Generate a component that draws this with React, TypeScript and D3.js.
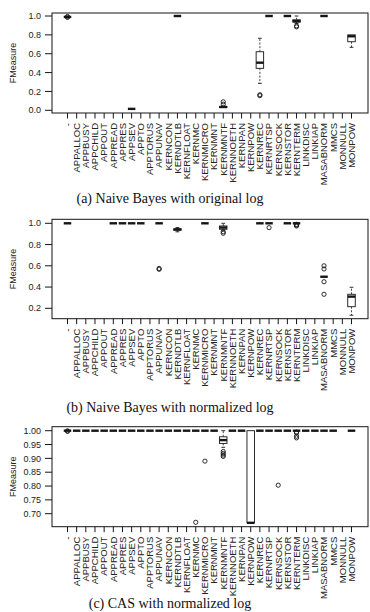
import React from 'react';
import * as d3 from 'd3';

// fault categories along the x axis
const categories = [
  '-', 'APPALLOC', 'APPBUSY', 'APPCHILD', 'APPOUT', 'APPREAD', 'APPRES', 'APPSEV',
  'APPTO', 'APPTORUS', 'APPUNAV', 'KERNCON', 'KERNDTLB', 'KERNFLOAT', 'KERNMC',
  'KERNMICRO', 'KERNMNT', 'KERNMNTF', 'KERNNOETH', 'KERNPAN', 'KERNPOW', 'KERNREC',
  'KERNRTSP', 'KERNSOCK', 'KERNSTOR', 'KERNTERM', 'LINKDISC', 'LINKIAP', 'MASABNORM',
  'MMCS', 'MONNULL', 'MONPOW',
];

// [category, lower whisker, q1, median, q3, upper whisker]
type Stat = [string, number, number, number, number, number];
type Outlier = [string, number];

const nbOriginalStats: Stat[] = [
  ['-', 0.99, 0.99, 0.99, 0.99, 0.99],
  ['APPSEV', 0.015, 0.015, 0.015, 0.015, 0.015],
  ['KERNDTLB', 1, 1, 1, 1, 1],
  ['KERNMNTF', 0.03, 0.03, 0.035, 0.04, 0.045],
  ['KERNREC', 0.286, 0.445, 0.505, 0.621, 0.764],
  ['KERNRTSP', 1, 1, 1, 1, 1],
  ['KERNSTOR', 1, 1, 1, 1, 1],
  ['KERNTERM', 0.92, 0.935, 0.945, 0.96, 1],
  ['MASABNORM', 1, 1, 1, 1, 1],
  ['MONPOW', 0.668, 0.727, 0.785, 0.8, 0.8],
];
const nbOriginalOutliers: Outlier[] = [
  ['-', 0.985], ['-', 0.995],
  ['KERNMNTF', 0.065], ['KERNMNTF', 0.09],
  ['KERNREC', 0.155], ['KERNREC', 0.165],
  ['KERNTERM', 0.885], ['KERNTERM', 0.895],
];

const nbNormalizedStats: Stat[] = [
  ['-', 1, 1, 1, 1, 1],
  ['APPREAD', 1, 1, 1, 1, 1],
  ['APPRES', 1, 1, 1, 1, 1],
  ['APPSEV', 1, 1, 1, 1, 1],
  ['APPTO', 1, 1, 1, 1, 1],
  ['APPUNAV', 1, 1, 1, 1, 1],
  ['KERNDTLB', 0.92, 0.935, 0.942, 0.948, 0.96],
  ['KERNMICRO', 1, 1, 1, 1, 1],
  ['KERNMNTF', 0.935, 0.944, 0.96, 0.975, 1],
  ['KERNREC', 1, 1, 1, 1, 1],
  ['KERNRTSP', 1, 1, 1, 1, 1],
  ['KERNSTOR', 1, 1, 1, 1, 1],
  ['KERNTERM', 1, 1, 1, 1, 1],
  ['MASABNORM', 0.497, 0.497, 0.497, 0.497, 0.497],
  ['MONPOW', 0.135, 0.215, 0.31, 0.332, 0.398],
];
const nbNormalizedOutliers: Outlier[] = [
  ['APPUNAV', 0.567], ['APPUNAV', 0.575],
  ['KERNMNTF', 0.92], ['KERNMNTF', 0.906],
  ['KERNRTSP', 0.959],
  ['KERNTERM', 0.99], ['KERNTERM', 0.982], ['KERNTERM', 0.975],
  ['MASABNORM', 0.6], ['MASABNORM', 0.57], ['MASABNORM', 0.45], ['MASABNORM', 0.332],
];

const casNormalizedStats: Stat[] = [
  ['-', 1, 1, 1, 1, 1],
  ['APPALLOC', 1, 1, 1, 1, 1],
  ['APPBUSY', 1, 1, 1, 1, 1],
  ['APPCHILD', 1, 1, 1, 1, 1],
  ['APPOUT', 1, 1, 1, 1, 1],
  ['APPREAD', 1, 1, 1, 1, 1],
  ['APPRES', 1, 1, 1, 1, 1],
  ['APPSEV', 1, 1, 1, 1, 1],
  ['APPTO', 1, 1, 1, 1, 1],
  ['APPTORUS', 1, 1, 1, 1, 1],
  ['APPUNAV', 1, 1, 1, 1, 1],
  ['KERNCON', 1, 1, 1, 1, 1],
  ['KERNDTLB', 1, 1, 1, 1, 1],
  ['KERNFLOAT', 1, 1, 1, 1, 1],
  ['KERNMC', 1, 1, 1, 1, 1],
  ['KERNMICRO', 1, 1, 1, 1, 1],
  ['KERNMNT', 1, 1, 1, 1, 1],
  ['KERNMNTF', 0.94, 0.954, 0.966, 0.978, 1],
  ['KERNNOETH', 1, 1, 1, 1, 1],
  ['KERNPAN', 1, 1, 1, 1, 1],
  ['KERNPOW', 0.667, 0.667, 0.667, 1, 1],
  ['KERNREC', 1, 1, 1, 1, 1],
  ['KERNRTSP', 1, 1, 1, 1, 1],
  ['KERNSOCK', 1, 1, 1, 1, 1],
  ['KERNSTOR', 1, 1, 1, 1, 1],
  ['KERNTERM', 1, 1, 1, 1, 1],
  ['LINKDISC', 1, 1, 1, 1, 1],
  ['LINKIAP', 1, 1, 1, 1, 1],
  ['MASABNORM', 1, 1, 1, 1, 1],
  ['MMCS', 1, 1, 1, 1, 1],
  ['MONPOW', 1, 1, 1, 1, 1],
];
const casNormalizedOutliers: Outlier[] = [
  ['-', 0.999], ['-', 0.998],
  ['KERNMC', 0.669],
  ['KERNMICRO', 0.89],
  ['KERNMNTF', 0.925], ['KERNMNTF', 0.918], ['KERNMNTF', 0.912], ['KERNMNTF', 0.907],
  ['KERNSOCK', 0.803],
  ['KERNTERM', 0.995], ['KERNTERM', 0.992], ['KERNTERM', 0.98], ['KERNTERM', 0.974],
];

const ticksA = [0, 0.2, 0.4, 0.6, 0.8, 1.0];
const ticksB = [0.2, 0.4, 0.6, 0.8, 1.0];
const ticksC = [0.70, 0.75, 0.80, 0.85, 0.90, 0.95, 1.00];

const captions = [
  '(a) Naive Bayes with original log',
  '(b) Naive Bayes with normalized log',
  '(c) CAS with normalized log',
];

const SANS = '"Liberation Sans", Arial, Helvetica, sans-serif';
const SERIF = '"Liberation Serif", "Times New Roman", serif';
const INK = '#151515';

const FRAME_L = 52;
const FRAME_R = 368;
const BOX_W = 7.5;

const x = d3.scalePoint<string>().domain(categories).range([67.5, 351.5]);

interface PanelProps {
  stats: Stat[];
  outliers: Outlier[];
  ticks: number[];
  fmt: string;
  y: d3.ScaleLinear<number, number>;
  top: number;
  bottom: number;
  caption: string;
  captionY: number;
}

const Panel: React.FC<PanelProps> = ({ stats, outliers, ticks, fmt, y, top, bottom, caption, captionY }) => {
  const format = d3.format(fmt);
  const labelY = bottom + 10;
  return (
    <g>
      <rect x={FRAME_L} y={top} width={FRAME_R - FRAME_L} height={bottom - top}
        fill="none" stroke={INK} strokeWidth={1} />

      {/* y axis */}
      {ticks.map(t => (
        <g key={t}>
          <line x1={FRAME_L - 7} x2={FRAME_L} y1={y(t)} y2={y(t)} stroke={INK} />
          <text x={FRAME_L - 11} y={y(t)} dy="0.35em" textAnchor="end"
            fontFamily={SANS} fontSize={9} fill="#222">{format(t)}</text>
        </g>
      ))}
      <text transform={`translate(13, ${(top + bottom) / 2}) rotate(-90)`} textAnchor="middle"
        dy="0.35em" fontFamily={SANS} fontSize={9} fill="#222">FMeasure</text>

      {/* x axis ticks and rotated category names */}
      {categories.map(c => {
        const cx = x(c)!;
        return (
          <g key={c}>
            <line x1={cx} x2={cx} y1={bottom} y2={bottom + 5.5} stroke={INK} />
            <text transform={`translate(${cx}, ${labelY}) rotate(-90)`} textAnchor="end"
              dy="0.35em" fontFamily={SANS} fontSize={9.5} fill="#222">{c}</text>
          </g>
        );
      })}

      {/* boxplots */}
      {stats.map(([c, lo, q1, med, q3, hi]) => {
        const cx = x(c)!;
        const half = BOX_W / 2;
        return (
          <g key={c}>
            {hi > q3 && (
              <>
                <line x1={cx} x2={cx} y1={y(q3)} y2={y(hi)} stroke={INK} strokeWidth={0.8} strokeDasharray="2,1.6" />
                <line x1={cx - half / 2} x2={cx + half / 2} y1={y(hi)} y2={y(hi)} stroke={INK} strokeWidth={0.9} />
              </>
            )}
            {lo < q1 && (
              <>
                <line x1={cx} x2={cx} y1={y(q1)} y2={y(lo)} stroke={INK} strokeWidth={0.8} strokeDasharray="2,1.6" />
                <line x1={cx - half / 2} x2={cx + half / 2} y1={y(lo)} y2={y(lo)} stroke={INK} strokeWidth={0.9} />
              </>
            )}
            <rect x={cx - half} y={y(q3)} width={BOX_W} height={y(q1) - y(q3)}
              fill="white" stroke={INK} strokeWidth={0.9} />
            <line x1={cx - half} x2={cx + half} y1={y(med)} y2={y(med)} stroke={INK} strokeWidth={2.4} />
          </g>
        );
      })}

      {outliers.map(([c, v], i) => (
        <circle key={i} cx={x(c)!} cy={y(v)} r={2.1} fill="none" stroke={INK} strokeWidth={0.9} />
      ))}

      <text x={170} y={captionY} textAnchor="middle" fontFamily={SERIF} fontSize={14} fill="#111">
        {caption}
      </text>
    </g>
  );
};

export default function App() {
  const yA = d3.scaleLinear().domain([0, 1]).range([110.3, 16]);
  const yB = d3.scaleLinear().domain([0.2, 1]).range([308.3, 223.3]);
  const yC = d3.scaleLinear().domain([0.7, 1]).range([513.7, 430.7]);

  return (
    <svg width={370} height={612} style={{ position: 'absolute', left: 0, top: 0, background: 'white' }}>
      <Panel stats={nbOriginalStats} outliers={nbOriginalOutliers} ticks={ticksA} fmt=".1f"
        y={yA} top={13} bottom={113} caption={captions[0]} captionY={202.5} />
      <Panel stats={nbNormalizedStats} outliers={nbNormalizedOutliers} ticks={ticksB} fmt=".1f"
        y={yB} top={219.3} bottom={318.7} caption={captions[1]} captionY={412} />
      <Panel stats={casNormalizedStats} outliers={casNormalizedOutliers} ticks={ticksC} fmt=".2f"
        y={yC} top={426.7} bottom={526.7} caption={captions[2]} captionY={608} />
    </svg>
  );
}
